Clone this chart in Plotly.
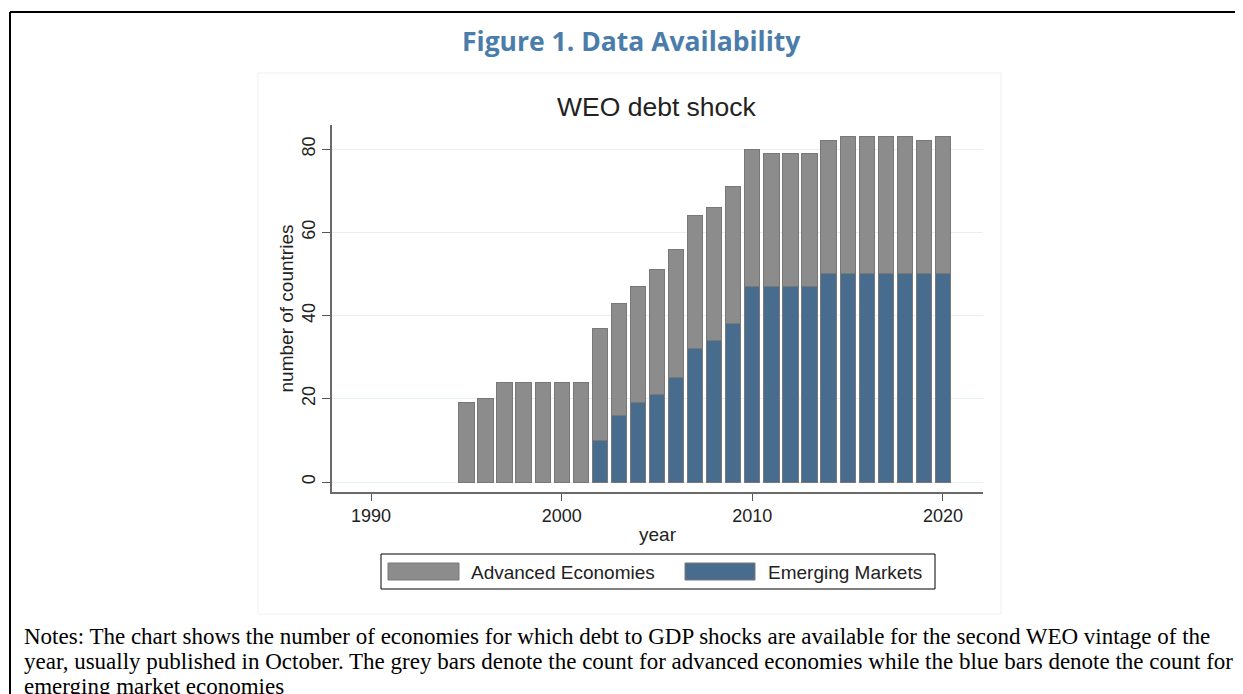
import plotly.graph_objects as go

# ---- data ----
years = list(range(1995, 2021))
emerging = [0, 0, 0, 0, 0, 0, 0, 10, 16, 19, 21, 25, 32, 34, 38, 47, 47, 47, 47, 50, 50, 50, 50, 50, 50, 50]
total = [19, 20, 24, 24, 24, 24, 24, 37, 43, 47, 51, 56, 64, 66, 71, 80, 79, 79, 79, 82, 83, 83, 83, 83, 82, 83]
advanced = [t - e for t, e in zip(total, emerging)]
series_names = ["Advanced Economies", "Emerging Markets"]
x_ticks = [1990, 2000, 2010, 2020]
y_ticks = [0, 20, 40, 60, 80]

GREY = "#8c8c8c"
BLUE = "#486c8e"
EDGE = "#787878"

OFF = 8  # page body margin
W, H = 1243 - OFF, 694 - OFF
# plot area in screen pixels
L, R, T, B = 332, 983, 125, 492


def px(x):
    return (x - L) / (R - L)


def py(y):
    return (B - y) / (B - T)


fig = go.Figure()
fig.add_trace(go.Bar(x=years, y=emerging, name=series_names[1], marker=dict(color=BLUE, line=dict(color=EDGE, width=1)), width=0.8, showlegend=False))
fig.add_trace(go.Bar(x=years, y=advanced, name=series_names[0], marker=dict(color=GREY, line=dict(color=EDGE, width=1)), width=0.8, showlegend=False))

shapes = []
annotations = []
# outer black frame (top + left)
shapes.append(dict(type="line", xref="paper", yref="paper", x0=px(10), x1=px(1260), y0=py(12), y1=py(12), line=dict(color="black", width=2)))
shapes.append(dict(type="line", xref="paper", yref="paper", x0=px(10), x1=px(10), y0=py(12), y1=py(710), line=dict(color="black", width=2)))
# faint panel border
shapes.append(dict(type="rect", xref="paper", yref="paper", x0=px(258), x1=px(1001), y0=py(73), y1=py(614), line=dict(color="#f0f0f0", width=1), layer="below"))
# legend box
shapes.append(dict(type="rect", xref="paper", yref="paper", x0=px(381), x1=px(935), y0=py(554), y1=py(589), line=dict(color="black", width=1)))
# legend swatches
shapes.append(dict(type="rect", xref="paper", yref="paper", x0=px(388), x1=px(459), y0=py(563), y1=py(580), fillcolor=GREY, line=dict(color=EDGE, width=1)))
shapes.append(dict(type="rect", xref="paper", yref="paper", x0=px(685), x1=px(755), y0=py(563), y1=py(580), fillcolor=BLUE, line=dict(color=EDGE, width=1)))

annotations.append(dict(text=series_names[0], xref="paper", yref="paper", x=px(469), y=py(572), xanchor="left", yanchor="middle", showarrow=False, font=dict(family="Liberation Sans, Arial", size=19, color="#222")))
annotations.append(dict(text=series_names[1], xref="paper", yref="paper", x=px(766), y=py(572), xanchor="left", yanchor="middle", showarrow=False, font=dict(family="Liberation Sans, Arial", size=19, color="#222")))

# titles
annotations.append(dict(text="<b>Figure 1. Data Availability</b>", xref="paper", yref="paper", x=px(631), y=py(41), xanchor="center", yanchor="middle", showarrow=False, font=dict(family="Open Sans", size=26.5, color="#4a7dab")))
annotations.append(dict(text="WEO debt shock", xref="paper", yref="paper", x=px(657), y=py(107), xanchor="center", yanchor="middle", showarrow=False, font=dict(family="Liberation Sans, Arial", size=26.5, color="#222")))

notes_lines = [
    "Notes: The chart shows the number of economies for which debt to GDP shocks are available for the second WEO vintage of the",
    "year, usually published in October. The grey bars denote the count for advanced economies while the blue bars denote the count for",
    "emerging market economies",
]
for i, line in enumerate(notes_lines):
    annotations.append(dict(text=line, xref="paper", yref="paper", x=px(22), y=py(636 + 25 * i), xanchor="left", yanchor="middle", align="left", showarrow=False, font=dict(family="Liberation Serif, Times New Roman", size=23, color="black")))

fig.update_layout(
    width=W, height=H,
    barmode="stack",
    bargap=0.2,
    paper_bgcolor="white", plot_bgcolor="white",
    margin=dict(l=L - OFF, r=W - (R - OFF), t=T - OFF, b=H - (B - OFF), pad=0),
    font=dict(family="Liberation Sans, Arial", size=18, color="#222"),
    shapes=shapes,
    annotations=annotations,
    showlegend=False,
)
fig.update_xaxes(
    range=[1987.95, 2022.1], tickvals=x_ticks, ticks="outside", ticklen=7, tickcolor="#555",
    showline=True, linecolor="#6a6a6a", linewidth=1.5, showgrid=False, zeroline=False,
    title=dict(text="year", font=dict(size=19), standoff=2), tickfont=dict(size=18),
)
fig.update_yaxes(
    range=[-2.4, 85.8], tickvals=y_ticks, ticks="outside", ticklen=8, tickcolor="#555",
    tickangle=-90, showline=True, linecolor="#6a6a6a", linewidth=1.5,
    showgrid=True, gridcolor="#e6eff1", gridwidth=1, zeroline=False,
    title=dict(text="number of countries", font=dict(size=19), standoff=0), tickfont=dict(size=18),
)

fig.write_html("out.html")
